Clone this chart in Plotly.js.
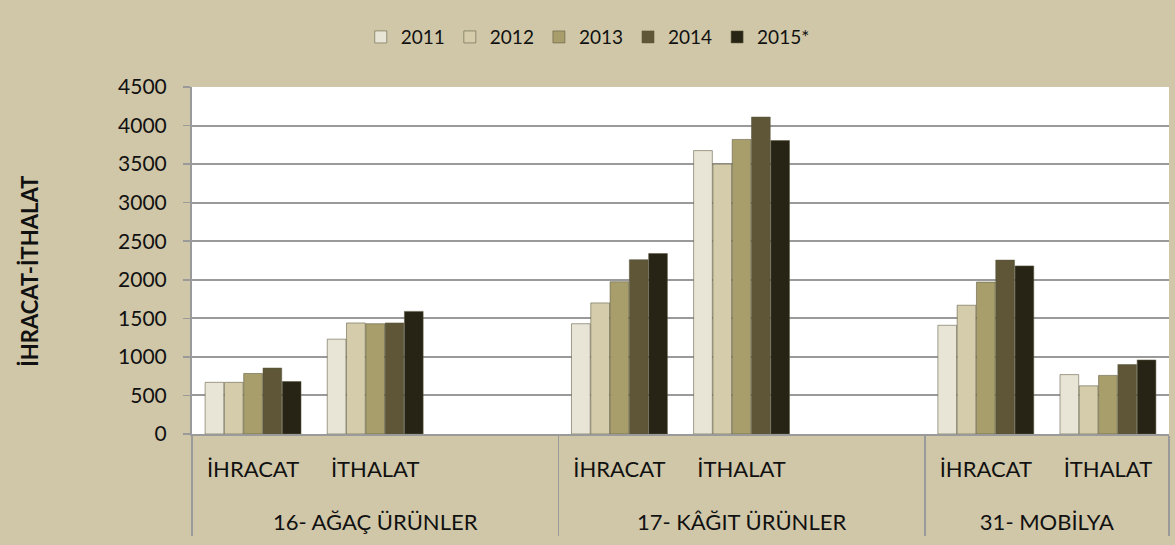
<!DOCTYPE html>
<html>
<head>
<meta charset="utf-8">
<script src="https://cdn.plot.ly/plotly-3.0.1.min.js"></script>
<style>
  html, body { margin: 0; padding: 0; background: #D0C7A8; }
  #chart { width: 1175px; height: 545px; }
</style>
</head>
<body>
<div id="chart"></div>
<script>
// Category levels (outer group, inner sub-category); blank inner labels are the empty slots
const groups = ["16- AĞAÇ ÜRÜNLER", "16- AĞAÇ ÜRÜNLER", "16- AĞAÇ ÜRÜNLER",
                "17- KÂĞIT ÜRÜNLER", "17- KÂĞIT ÜRÜNLER", "17- KÂĞIT ÜRÜNLER",
                "31- MOBİLYA", "31- MOBİLYA"];
const subs = ["İHRACAT", "İTHALAT", " ",
              "İHRACAT", "İTHALAT", " ",
              "İHRACAT", "İTHALAT"];

const seriesNames = ["2011", "2012", "2013", "2014", "2015*"];
const v2011 = [670, 1230, null, 1430, 3675, null, 1410, 770];
const v2012 = [670, 1440, null, 1700, 3500, null, 1670, 625];
const v2013 = [785, 1430, null, 1975, 3820, null, 1970, 760];
const v2014 = [855, 1440, null, 2260, 4110, null, 2255, 900];
const v2015 = [680, 1590, null, 2340, 3805, null, 2180, 960];
const seriesValues = [v2011, v2012, v2013, v2014, v2015];

const yTitle = "İHRACAT-İTHALAT";

const colors = ["#E8E5D6", "#D4CCAB", "#A89E6B", "#5E5637", "#272415"];
const FONT = "Lato, 'Open Sans', sans-serif";

// inner labels get an invisible first line (spacer) so the outer level sits lower
const subsShown = subs.map(s => "<span style='font-size:32px;color:rgba(0,0,0,0)'>.</span><br>" + s);

const traces = seriesNames.map((name, i) => ({
  type: "bar",
  name: name,
  x: [groups, subsShown],
  y: seriesValues[i],
  marker: { color: colors[i], line: { color: "rgba(90,85,60,0.55)", width: 1 } },
  hoverinfo: "y+name"
}));

const layout = {
  width: 1175,
  height: 545,
  paper_bgcolor: "#D0C7A8",
  plot_bgcolor: "#FFFFFF",
  margin: { l: 192, r: 6, t: 87, b: 111, pad: 0 },
  barmode: "group",
  bargap: 0.21,
  bargroupgap: 0.03,
  font: { family: FONT, color: "#111" },
  showlegend: true,
  legend: {
    orientation: "h",
    xref: "container", yref: "container",
    x: 0.307, xanchor: "left",
    y: 0.932, yanchor: "middle",
    font: { family: FONT, size: 19, color: "#111" },
    bgcolor: "rgba(0,0,0,0)"
  },
  xaxis: {
    type: "multicategory",
    showline: true,
    linecolor: "#9A9A9A",
    linewidth: 2,
    showgrid: false,
    ticks: "",
    tickfont: { family: FONT, size: 22, color: "#111" },
    ticklabelstandoff: -14,
    showdividers: true,
    dividercolor: "#9A9A9A",
    dividerwidth: 1.5,
    automargin: false
  },
  yaxis: {
    range: [0, 4500],
    dtick: 500,
    tick0: 0,
    showline: true,
    linecolor: "#9A9A9A",
    linewidth: 2,
    ticks: "outside",
    ticklen: 7,
    tickwidth: 1.5,
    tickcolor: "#9A9A9A",
    ticklabelstandoff: 12,
    showgrid: true,
    gridcolor: "#9A9A9A",
    gridwidth: 2,
    zeroline: false,
    tickfont: { family: FONT, size: 21, color: "#111" },
    automargin: false
  },
  annotations: [{
    text: yTitle,
    textangle: -90,
    xref: "paper", yref: "paper",
    x: -0.166, y: 0.47,
    xanchor: "center", yanchor: "middle",
    showarrow: false,
    font: { family: FONT, size: 22, color: "#111", weight: "bold" }
  }]
};

Plotly.newPlot("chart", traces, layout, { displayModeBar: false, staticPlot: true });
</script>
</body>
</html>
